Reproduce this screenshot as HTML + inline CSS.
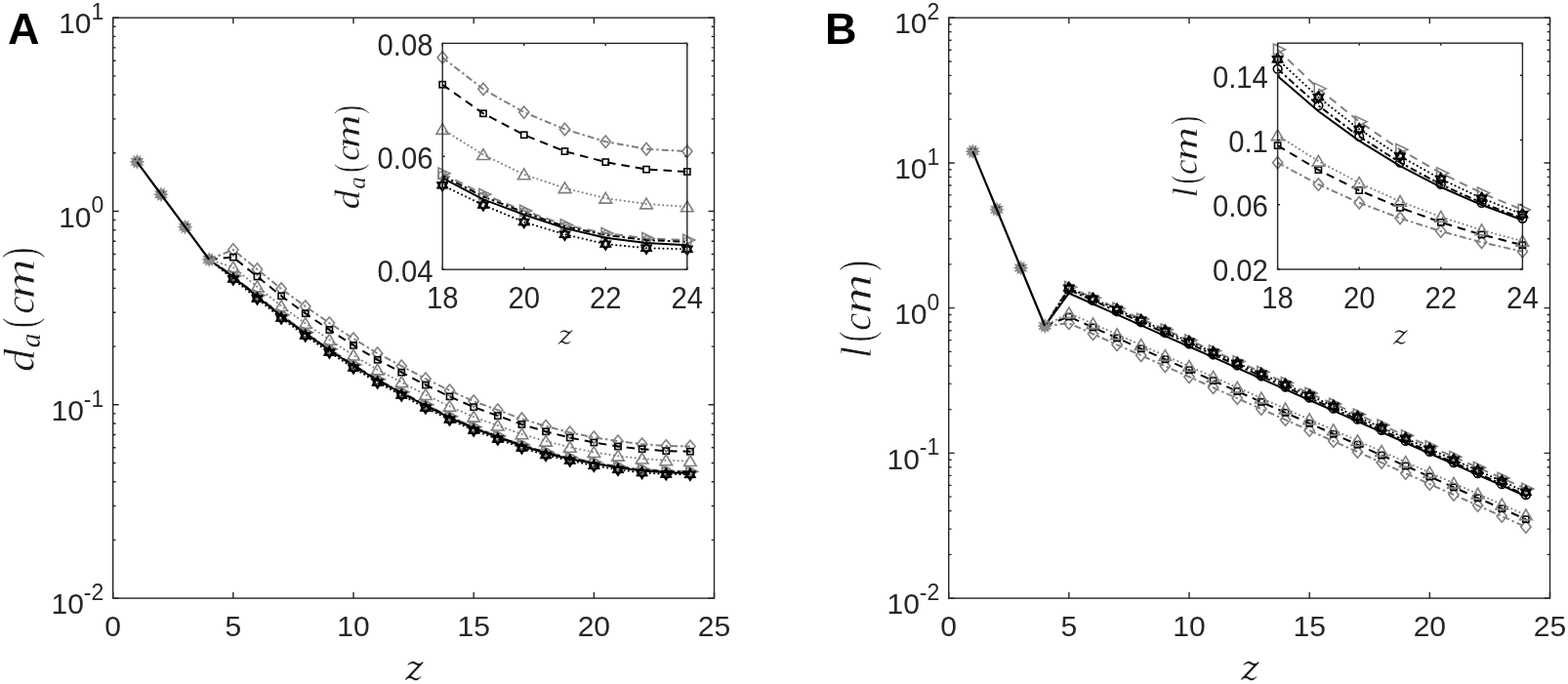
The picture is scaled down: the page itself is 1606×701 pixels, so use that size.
<!DOCTYPE html>
<html><head><meta charset="utf-8"><title>Figure</title>
<style>html,body{margin:0;padding:0;background:#fff;width:1606px;height:701px;overflow:hidden}svg{display:block}</style>
</head><body>
<svg width="1606" height="701" viewBox="0 0 1606 701">
<rect x="0" y="0" width="1606" height="701" fill="#ffffff"/>
<g>
<polyline points="214.23,265.99 238.86,255.98 263.49,276.01 288.12,296.03 312.76,314.06 337.39,331.08 362.02,347.11 386.65,362.13 411.28,375.16 435.92,388.18 460.55,400.21 485.18,411.23 509.81,420.26 534.44,429.28 559.08,436.75 583.71,443.21 608.34,448.27 632.97,452.16 657.6,455.14 682.24,456.95 706.87,457.51" fill="none" stroke="#808080" stroke-width="2.0" stroke-dasharray="7,3,2.5,3" stroke-linecap="butt" stroke-linejoin="round"/>
<polygon points="238.86,249.82 244.01,255.98 238.86,262.14 233.71,255.98" fill="none" stroke="#808080" stroke-width="1.6"/>
<polygon points="263.49,269.85 268.64,276.01 263.49,282.17 258.34,276.01" fill="none" stroke="#808080" stroke-width="1.6"/>
<polygon points="288.12,289.87 293.28,296.03 288.12,302.19 282.97,296.03" fill="none" stroke="#808080" stroke-width="1.6"/>
<polygon points="312.76,307.9 317.91,314.06 312.76,320.22 307.6,314.06" fill="none" stroke="#808080" stroke-width="1.6"/>
<polygon points="337.39,324.92 342.54,331.08 337.39,337.24 332.24,331.08" fill="none" stroke="#808080" stroke-width="1.6"/>
<polygon points="362.02,340.95 367.17,347.11 362.02,353.27 356.87,347.11" fill="none" stroke="#808080" stroke-width="1.6"/>
<polygon points="386.65,355.97 391.8,362.13 386.65,368.29 381.5,362.13" fill="none" stroke="#808080" stroke-width="1.6"/>
<polygon points="411.28,369 416.44,375.16 411.28,381.32 406.13,375.16" fill="none" stroke="#808080" stroke-width="1.6"/>
<polygon points="435.92,382.02 441.07,388.18 435.92,394.34 430.76,388.18" fill="none" stroke="#808080" stroke-width="1.6"/>
<polygon points="460.55,394.05 465.7,400.21 460.55,406.37 455.4,400.21" fill="none" stroke="#808080" stroke-width="1.6"/>
<polygon points="485.18,405.07 490.33,411.23 485.18,417.39 480.03,411.23" fill="none" stroke="#808080" stroke-width="1.6"/>
<polygon points="509.81,414.1 514.96,420.26 509.81,426.42 504.66,420.26" fill="none" stroke="#808080" stroke-width="1.6"/>
<polygon points="534.44,423.12 539.6,429.28 534.44,435.44 529.29,429.28" fill="none" stroke="#808080" stroke-width="1.6"/>
<polygon points="559.08,430.59 564.23,436.75 559.08,442.91 553.92,436.75" fill="none" stroke="#808080" stroke-width="1.6"/>
<polygon points="583.71,437.05 588.86,443.21 583.71,449.37 578.56,443.21" fill="none" stroke="#808080" stroke-width="1.6"/>
<polygon points="608.34,442.11 613.49,448.27 608.34,454.43 603.19,448.27" fill="none" stroke="#808080" stroke-width="1.6"/>
<polygon points="632.97,446 638.12,452.16 632.97,458.32 627.82,452.16" fill="none" stroke="#808080" stroke-width="1.6"/>
<polygon points="657.6,448.98 662.76,455.14 657.6,461.3 652.45,455.14" fill="none" stroke="#808080" stroke-width="1.6"/>
<polygon points="682.24,450.79 687.39,456.95 682.24,463.11 677.08,456.95" fill="none" stroke="#808080" stroke-width="1.6"/>
<polygon points="706.87,451.35 712.02,457.51 706.87,463.67 701.72,457.51" fill="none" stroke="#808080" stroke-width="1.6"/>
<polyline points="214.23,265.99 238.86,263.6 263.49,283.47 288.12,303.33 312.76,321.19 337.39,338.05 362.02,353.91 386.65,368.77 411.28,381.64 435.92,394.5 460.55,406.36 485.18,417.22 509.81,426.09 534.44,434.95 559.08,442.26 583.71,448.52 608.34,453.5 632.97,457.51 657.6,460.24 682.24,462.16 706.87,462.76" fill="none" stroke="#000000" stroke-width="2.0" stroke-dasharray="8.5,6" stroke-linecap="butt" stroke-linejoin="round"/>
<rect x="235.76" y="260.5" width="6.2" height="6.2" fill="none" stroke="#000000" stroke-width="1.6"/>
<rect x="260.39" y="280.37" width="6.2" height="6.2" fill="none" stroke="#000000" stroke-width="1.6"/>
<rect x="285.02" y="300.23" width="6.2" height="6.2" fill="none" stroke="#000000" stroke-width="1.6"/>
<rect x="309.66" y="318.09" width="6.2" height="6.2" fill="none" stroke="#000000" stroke-width="1.6"/>
<rect x="334.29" y="334.95" width="6.2" height="6.2" fill="none" stroke="#000000" stroke-width="1.6"/>
<rect x="358.92" y="350.81" width="6.2" height="6.2" fill="none" stroke="#000000" stroke-width="1.6"/>
<rect x="383.55" y="365.67" width="6.2" height="6.2" fill="none" stroke="#000000" stroke-width="1.6"/>
<rect x="408.18" y="378.54" width="6.2" height="6.2" fill="none" stroke="#000000" stroke-width="1.6"/>
<rect x="432.82" y="391.4" width="6.2" height="6.2" fill="none" stroke="#000000" stroke-width="1.6"/>
<rect x="457.45" y="403.26" width="6.2" height="6.2" fill="none" stroke="#000000" stroke-width="1.6"/>
<rect x="482.08" y="414.12" width="6.2" height="6.2" fill="none" stroke="#000000" stroke-width="1.6"/>
<rect x="506.71" y="422.99" width="6.2" height="6.2" fill="none" stroke="#000000" stroke-width="1.6"/>
<rect x="531.34" y="431.85" width="6.2" height="6.2" fill="none" stroke="#000000" stroke-width="1.6"/>
<rect x="555.98" y="439.16" width="6.2" height="6.2" fill="none" stroke="#000000" stroke-width="1.6"/>
<rect x="580.61" y="445.42" width="6.2" height="6.2" fill="none" stroke="#000000" stroke-width="1.6"/>
<rect x="605.24" y="450.4" width="6.2" height="6.2" fill="none" stroke="#000000" stroke-width="1.6"/>
<rect x="629.87" y="454.41" width="6.2" height="6.2" fill="none" stroke="#000000" stroke-width="1.6"/>
<rect x="654.5" y="457.14" width="6.2" height="6.2" fill="none" stroke="#000000" stroke-width="1.6"/>
<rect x="679.14" y="459.06" width="6.2" height="6.2" fill="none" stroke="#000000" stroke-width="1.6"/>
<rect x="703.77" y="459.66" width="6.2" height="6.2" fill="none" stroke="#000000" stroke-width="1.6"/>
<polyline points="214.23,265.99 238.86,273.96 263.49,293.79 288.12,313.61 312.76,331.44 337.39,348.27 362.02,364.09 386.65,378.92 411.28,391.75 435.92,404.58 460.55,416.41 485.18,427.23 509.81,436.06 534.44,444.89 559.08,452.16 583.71,458.36 608.34,463.51 632.97,467.23 657.6,470.13 682.24,471.78 706.87,472.62" fill="none" stroke="#808080" stroke-width="2.0" stroke-dasharray="0.1,4.3" stroke-linecap="round" stroke-linejoin="round"/>
<polygon points="238.86,268.08 245.16,278.88 232.56,278.88" fill="none" stroke="#808080" stroke-width="1.6"/>
<polygon points="263.49,287.91 269.79,298.71 257.19,298.71" fill="none" stroke="#808080" stroke-width="1.6"/>
<polygon points="288.12,307.73 294.42,318.53 281.82,318.53" fill="none" stroke="#808080" stroke-width="1.6"/>
<polygon points="312.76,325.56 319.06,336.36 306.46,336.36" fill="none" stroke="#808080" stroke-width="1.6"/>
<polygon points="337.39,342.39 343.69,353.19 331.09,353.19" fill="none" stroke="#808080" stroke-width="1.6"/>
<polygon points="362.02,358.21 368.32,369.01 355.72,369.01" fill="none" stroke="#808080" stroke-width="1.6"/>
<polygon points="386.65,373.04 392.95,383.84 380.35,383.84" fill="none" stroke="#808080" stroke-width="1.6"/>
<polygon points="411.28,385.87 417.58,396.67 404.98,396.67" fill="none" stroke="#808080" stroke-width="1.6"/>
<polygon points="435.92,398.7 442.22,409.5 429.62,409.5" fill="none" stroke="#808080" stroke-width="1.6"/>
<polygon points="460.55,410.53 466.85,421.33 454.25,421.33" fill="none" stroke="#808080" stroke-width="1.6"/>
<polygon points="485.18,421.35 491.48,432.15 478.88,432.15" fill="none" stroke="#808080" stroke-width="1.6"/>
<polygon points="509.81,430.18 516.11,440.98 503.51,440.98" fill="none" stroke="#808080" stroke-width="1.6"/>
<polygon points="534.44,439.01 540.74,449.81 528.14,449.81" fill="none" stroke="#808080" stroke-width="1.6"/>
<polygon points="559.08,446.28 565.38,457.08 552.78,457.08" fill="none" stroke="#808080" stroke-width="1.6"/>
<polygon points="583.71,452.48 590.01,463.28 577.41,463.28" fill="none" stroke="#808080" stroke-width="1.6"/>
<polygon points="608.34,457.63 614.64,468.43 602.04,468.43" fill="none" stroke="#808080" stroke-width="1.6"/>
<polygon points="632.97,461.35 639.27,472.15 626.67,472.15" fill="none" stroke="#808080" stroke-width="1.6"/>
<polygon points="657.6,464.25 663.9,475.05 651.3,475.05" fill="none" stroke="#808080" stroke-width="1.6"/>
<polygon points="682.24,465.9 688.54,476.7 675.94,476.7" fill="none" stroke="#808080" stroke-width="1.6"/>
<polygon points="706.87,466.74 713.17,477.54 700.57,477.54" fill="none" stroke="#808080" stroke-width="1.6"/>
<polyline points="214.23,265.99 238.86,282.79 263.49,302.79 288.12,322.78 312.76,340.78 337.39,357.78 362.02,373.78 386.65,388.78 411.28,401.78 435.92,414.78 460.55,426.77 485.18,437.77 509.81,446.77 534.44,455.77 559.08,463.21 583.71,468.99 608.34,473.81 632.97,478.19 657.6,480.93 682.24,482.62 706.87,483.19" fill="none" stroke="#808080" stroke-width="2.0" stroke-dasharray="8.5,6" stroke-linecap="butt" stroke-linejoin="round"/>
<polygon points="246.66,282.79 234.66,277.09 234.66,288.49" fill="none" stroke="#808080" stroke-width="1.6"/>
<polygon points="271.29,302.79 259.29,297.09 259.29,308.49" fill="none" stroke="#808080" stroke-width="1.6"/>
<polygon points="295.92,322.78 283.92,317.08 283.92,328.48" fill="none" stroke="#808080" stroke-width="1.6"/>
<polygon points="320.56,340.78 308.56,335.08 308.56,346.48" fill="none" stroke="#808080" stroke-width="1.6"/>
<polygon points="345.19,357.78 333.19,352.08 333.19,363.48" fill="none" stroke="#808080" stroke-width="1.6"/>
<polygon points="369.82,373.78 357.82,368.08 357.82,379.48" fill="none" stroke="#808080" stroke-width="1.6"/>
<polygon points="394.45,388.78 382.45,383.08 382.45,394.48" fill="none" stroke="#808080" stroke-width="1.6"/>
<polygon points="419.08,401.78 407.08,396.08 407.08,407.48" fill="none" stroke="#808080" stroke-width="1.6"/>
<polygon points="443.72,414.78 431.72,409.08 431.72,420.48" fill="none" stroke="#808080" stroke-width="1.6"/>
<polygon points="468.35,426.77 456.35,421.07 456.35,432.47" fill="none" stroke="#808080" stroke-width="1.6"/>
<polygon points="492.98,437.77 480.98,432.07 480.98,443.47" fill="none" stroke="#808080" stroke-width="1.6"/>
<polygon points="517.61,446.77 505.61,441.07 505.61,452.47" fill="none" stroke="#808080" stroke-width="1.6"/>
<polygon points="542.24,455.77 530.24,450.07 530.24,461.47" fill="none" stroke="#808080" stroke-width="1.6"/>
<polygon points="566.88,463.21 554.88,457.51 554.88,468.91" fill="none" stroke="#808080" stroke-width="1.6"/>
<polygon points="591.51,468.99 579.51,463.29 579.51,474.69" fill="none" stroke="#808080" stroke-width="1.6"/>
<polygon points="616.14,473.81 604.14,468.11 604.14,479.51" fill="none" stroke="#808080" stroke-width="1.6"/>
<polygon points="640.77,478.19 628.77,472.49 628.77,483.89" fill="none" stroke="#808080" stroke-width="1.6"/>
<polygon points="665.4,480.93 653.4,475.23 653.4,486.63" fill="none" stroke="#808080" stroke-width="1.6"/>
<polygon points="690.04,482.62 678.04,476.92 678.04,488.32" fill="none" stroke="#808080" stroke-width="1.6"/>
<polygon points="714.67,483.19 702.67,477.49 702.67,488.89" fill="none" stroke="#808080" stroke-width="1.6"/>
<polyline points="214.23,265.99 238.86,283.37 263.49,303.37 288.12,323.37 312.76,341.37 337.39,358.37 362.02,374.37 386.65,389.37 411.28,402.37 435.92,415.37 460.55,427.37 485.18,438.37 509.81,447.37 534.44,456.37 559.08,463.82 583.71,469.64 608.34,474.32 632.97,478.73 657.6,481.49 682.24,483.19 706.87,483.76" fill="none" stroke="#000000" stroke-width="2.0" stroke-dasharray="7,3,2.5,3" stroke-linecap="butt" stroke-linejoin="round"/>
<circle cx="238.86" cy="283.37" r="4.32" fill="none" stroke="#808080" stroke-width="1.6"/>
<circle cx="263.49" cy="303.37" r="4.32" fill="none" stroke="#808080" stroke-width="1.6"/>
<circle cx="288.12" cy="323.37" r="4.32" fill="none" stroke="#808080" stroke-width="1.6"/>
<circle cx="312.76" cy="341.37" r="4.32" fill="none" stroke="#808080" stroke-width="1.6"/>
<circle cx="337.39" cy="358.37" r="4.32" fill="none" stroke="#808080" stroke-width="1.6"/>
<circle cx="362.02" cy="374.37" r="4.32" fill="none" stroke="#808080" stroke-width="1.6"/>
<circle cx="386.65" cy="389.37" r="4.32" fill="none" stroke="#808080" stroke-width="1.6"/>
<circle cx="411.28" cy="402.37" r="4.32" fill="none" stroke="#808080" stroke-width="1.6"/>
<circle cx="435.92" cy="415.37" r="4.32" fill="none" stroke="#808080" stroke-width="1.6"/>
<circle cx="460.55" cy="427.37" r="4.32" fill="none" stroke="#808080" stroke-width="1.6"/>
<circle cx="485.18" cy="438.37" r="4.32" fill="none" stroke="#808080" stroke-width="1.6"/>
<circle cx="509.81" cy="447.37" r="4.32" fill="none" stroke="#808080" stroke-width="1.6"/>
<circle cx="534.44" cy="456.37" r="4.32" fill="none" stroke="#808080" stroke-width="1.6"/>
<circle cx="559.08" cy="463.82" r="4.32" fill="none" stroke="#808080" stroke-width="1.6"/>
<circle cx="583.71" cy="469.64" r="4.32" fill="none" stroke="#808080" stroke-width="1.6"/>
<circle cx="608.34" cy="474.32" r="4.32" fill="none" stroke="#808080" stroke-width="1.6"/>
<circle cx="632.97" cy="478.73" r="4.32" fill="none" stroke="#808080" stroke-width="1.6"/>
<circle cx="657.6" cy="481.49" r="4.32" fill="none" stroke="#808080" stroke-width="1.6"/>
<circle cx="682.24" cy="483.19" r="4.32" fill="none" stroke="#808080" stroke-width="1.6"/>
<circle cx="706.87" cy="483.76" r="4.32" fill="none" stroke="#808080" stroke-width="1.6"/>
<polyline points="214.23,265.99 238.86,283.96 263.49,303.96 288.12,323.96 312.76,341.96 337.39,358.97 362.02,374.97 386.65,389.97 411.28,402.97 435.92,415.97 460.55,427.98 485.18,438.98 509.81,447.98 534.44,456.98 559.08,464.43 583.71,470.46 608.34,475.01 632.97,479.28 657.6,482.43 682.24,484.14 706.87,484.92" fill="none" stroke="#000000" stroke-width="2.0" stroke-linecap="butt" stroke-linejoin="round"/>
<polyline points="214.23,265.99 238.86,286 263.49,306 288.12,326 312.76,344 337.39,361 362.02,377 386.65,392 411.28,405 435.92,418 460.55,430 485.18,441 509.81,450 534.44,459 559.08,466.44 583.71,472.12 608.34,477.3 632.97,481.3 657.6,484.53 682.24,485.9 706.87,486.29" fill="none" stroke="#000000" stroke-width="2.0" stroke-dasharray="0.1,4.3" stroke-linecap="round" stroke-linejoin="round"/>
<polygon points="238.86,280.9 240.42,283.3 243.28,283.45 241.98,286 243.28,288.55 240.42,288.7 238.86,291.1 237.3,288.7 234.44,288.55 235.74,286 234.44,283.45 237.3,283.3" fill="none" stroke="#000000" stroke-width="2.56" stroke-linejoin="miter"/>
<polygon points="263.49,300.9 265.05,303.3 267.91,303.45 266.61,306 267.91,308.55 265.05,308.7 263.49,311.1 261.93,308.7 259.08,308.55 260.37,306 259.08,303.45 261.93,303.3" fill="none" stroke="#000000" stroke-width="2.56" stroke-linejoin="miter"/>
<polygon points="288.12,320.9 289.68,323.3 292.54,323.45 291.24,326 292.54,328.55 289.68,328.7 288.12,331.1 286.56,328.7 283.71,328.55 285,326 283.71,323.45 286.56,323.3" fill="none" stroke="#000000" stroke-width="2.56" stroke-linejoin="miter"/>
<polygon points="312.76,338.9 314.32,341.3 317.17,341.45 315.88,344 317.17,346.55 314.32,346.7 312.76,349.1 311.2,346.7 308.34,346.55 309.64,344 308.34,341.45 311.2,341.3" fill="none" stroke="#000000" stroke-width="2.56" stroke-linejoin="miter"/>
<polygon points="337.39,355.9 338.95,358.3 341.8,358.45 340.51,361 341.8,363.55 338.95,363.7 337.39,366.1 335.83,363.7 332.97,363.55 334.27,361 332.97,358.45 335.83,358.3" fill="none" stroke="#000000" stroke-width="2.56" stroke-linejoin="miter"/>
<polygon points="362.02,371.9 363.58,374.3 366.44,374.45 365.14,377 366.44,379.55 363.58,379.7 362.02,382.1 360.46,379.7 357.6,379.55 358.9,377 357.6,374.45 360.46,374.3" fill="none" stroke="#000000" stroke-width="2.56" stroke-linejoin="miter"/>
<polygon points="386.65,386.9 388.21,389.3 391.07,389.45 389.77,392 391.07,394.55 388.21,394.7 386.65,397.1 385.09,394.7 382.24,394.55 383.53,392 382.24,389.45 385.09,389.3" fill="none" stroke="#000000" stroke-width="2.56" stroke-linejoin="miter"/>
<polygon points="411.28,399.9 412.84,402.3 415.7,402.45 414.4,405 415.7,407.55 412.84,407.7 411.28,410.1 409.72,407.7 406.87,407.55 408.16,405 406.87,402.45 409.72,402.3" fill="none" stroke="#000000" stroke-width="2.56" stroke-linejoin="miter"/>
<polygon points="435.92,412.9 437.48,415.3 440.33,415.45 439.04,418 440.33,420.55 437.48,420.7 435.92,423.1 434.36,420.7 431.5,420.55 432.8,418 431.5,415.45 434.36,415.3" fill="none" stroke="#000000" stroke-width="2.56" stroke-linejoin="miter"/>
<polygon points="460.55,424.9 462.11,427.3 464.96,427.45 463.67,430 464.96,432.55 462.11,432.7 460.55,435.1 458.99,432.7 456.13,432.55 457.43,430 456.13,427.45 458.99,427.3" fill="none" stroke="#000000" stroke-width="2.56" stroke-linejoin="miter"/>
<polygon points="485.18,435.9 486.74,438.3 489.6,438.45 488.3,441 489.6,443.55 486.74,443.7 485.18,446.1 483.62,443.7 480.76,443.55 482.06,441 480.76,438.45 483.62,438.3" fill="none" stroke="#000000" stroke-width="2.56" stroke-linejoin="miter"/>
<polygon points="509.81,444.9 511.37,447.3 514.23,447.45 512.93,450 514.23,452.55 511.37,452.7 509.81,455.1 508.25,452.7 505.4,452.55 506.69,450 505.4,447.45 508.25,447.3" fill="none" stroke="#000000" stroke-width="2.56" stroke-linejoin="miter"/>
<polygon points="534.44,453.9 536,456.3 538.86,456.45 537.56,459 538.86,461.55 536,461.7 534.44,464.1 532.88,461.7 530.03,461.55 531.32,459 530.03,456.45 532.88,456.3" fill="none" stroke="#000000" stroke-width="2.56" stroke-linejoin="miter"/>
<polygon points="559.08,461.34 560.64,463.74 563.49,463.89 562.2,466.44 563.49,468.99 560.64,469.14 559.08,471.54 557.52,469.14 554.66,468.99 555.96,466.44 554.66,463.89 557.52,463.74" fill="none" stroke="#000000" stroke-width="2.56" stroke-linejoin="miter"/>
<polygon points="583.71,467.02 585.27,469.41 588.12,469.57 586.83,472.12 588.12,474.67 585.27,474.82 583.71,477.22 582.15,474.82 579.29,474.67 580.59,472.12 579.29,469.57 582.15,469.41" fill="none" stroke="#000000" stroke-width="2.56" stroke-linejoin="miter"/>
<polygon points="608.34,472.2 609.9,474.59 612.76,474.75 611.46,477.3 612.76,479.85 609.9,480 608.34,482.4 606.78,480 603.92,479.85 605.22,477.3 603.92,474.75 606.78,474.59" fill="none" stroke="#000000" stroke-width="2.56" stroke-linejoin="miter"/>
<polygon points="632.97,476.2 634.53,478.6 637.39,478.75 636.09,481.3 637.39,483.85 634.53,484 632.97,486.4 631.41,484 628.56,483.85 629.85,481.3 628.56,478.75 631.41,478.6" fill="none" stroke="#000000" stroke-width="2.56" stroke-linejoin="miter"/>
<polygon points="657.6,479.43 659.16,481.83 662.02,481.98 660.72,484.53 662.02,487.08 659.16,487.23 657.6,489.63 656.04,487.23 653.19,487.08 654.48,484.53 653.19,481.98 656.04,481.83" fill="none" stroke="#000000" stroke-width="2.56" stroke-linejoin="miter"/>
<polygon points="682.24,480.8 683.8,483.19 686.65,483.35 685.36,485.9 686.65,488.45 683.8,488.6 682.24,491 680.68,488.6 677.82,488.45 679.12,485.9 677.82,483.35 680.68,483.19" fill="none" stroke="#000000" stroke-width="2.56" stroke-linejoin="miter"/>
<polygon points="706.87,481.19 708.43,483.59 711.28,483.74 709.99,486.29 711.28,488.84 708.43,488.99 706.87,491.39 705.31,488.99 702.45,488.84 703.75,486.29 702.45,483.74 705.31,483.59" fill="none" stroke="#000000" stroke-width="2.56" stroke-linejoin="miter"/>
<polygon points="140.33,157.86 141.67,160.78 144.29,158.92 144,162.12 147.19,161.82 145.34,164.44 148.25,165.78 145.34,167.13 147.19,169.74 144,169.45 144.29,172.64 141.67,170.79 140.33,173.7 138.99,170.79 136.37,172.64 136.67,169.45 133.47,169.74 135.32,167.13 132.41,165.78 135.32,164.44 133.47,161.82 136.67,162.12 136.37,158.92 138.99,160.78" fill="#8a8a8a" stroke="none"/>
<circle cx="138.33" cy="163.28" r="1" fill="#333"/>
<circle cx="142.83" cy="163.28" r="1" fill="#333"/>
<polygon points="164.96,191.31 166.31,194.23 168.92,192.37 168.63,195.57 171.82,195.27 169.97,197.89 172.88,199.23 169.97,200.58 171.82,203.19 168.63,202.9 168.92,206.09 166.31,204.24 164.96,207.15 163.62,204.24 161,206.09 161.3,202.9 158.11,203.19 159.96,200.58 157.04,199.23 159.96,197.89 158.11,195.27 161.3,195.57 161,192.37 163.62,194.23" fill="#8a8a8a" stroke="none"/>
<circle cx="162.96" cy="196.73" r="1" fill="#333"/>
<circle cx="167.46" cy="196.73" r="1" fill="#333"/>
<polygon points="189.6,224.68 190.94,227.59 193.56,225.74 193.26,228.93 196.45,228.64 194.6,231.26 197.52,232.6 194.6,233.94 196.45,236.56 193.26,236.26 193.56,239.46 190.94,237.61 189.6,240.52 188.25,237.61 185.64,239.46 185.93,236.26 182.74,236.56 184.59,233.94 181.68,232.6 184.59,231.26 182.74,228.64 185.93,228.93 185.64,225.74 188.25,227.59" fill="#8a8a8a" stroke="none"/>
<circle cx="187.6" cy="230.1" r="1" fill="#333"/>
<circle cx="192.1" cy="230.1" r="1" fill="#333"/>
<polygon points="214.23,258.07 215.57,260.98 218.19,259.13 217.89,262.32 221.09,262.03 219.24,264.65 222.15,265.99 219.24,267.33 221.09,269.95 217.89,269.66 218.19,272.85 215.57,271 214.23,273.91 212.89,271 210.27,272.85 210.56,269.66 207.37,269.95 209.22,267.33 206.31,265.99 209.22,264.65 207.37,262.03 210.56,262.32 210.27,259.13 212.89,260.98" fill="#8a8a8a" stroke="none"/>
<circle cx="212.23" cy="263.49" r="1" fill="#333"/>
<circle cx="216.73" cy="263.49" r="1" fill="#333"/>
<polyline points="140.33,165.78 164.96,199.23 189.6,232.6 214.23,265.99" fill="none" stroke="#000000" stroke-width="2.2" stroke-linecap="butt" stroke-linejoin="round"/>
</g>
<path d="M115.7,613.1v-6M115.7,18.2v6M238.86,613.1v-6M238.86,18.2v6M362.02,613.1v-6M362.02,18.2v6M485.18,613.1v-6M485.18,18.2v6M608.34,613.1v-6M608.34,18.2v6M731.5,613.1v-6M731.5,18.2v6M115.7,613.1h6M731.5,613.1h-6M115.7,414.8h6M731.5,414.8h-6M115.7,216.5h6M731.5,216.5h-6M115.7,18.2h6M731.5,18.2h-6M115.7,553.41h2.82M731.5,553.41h-2.82M115.7,518.49h2.82M731.5,518.49h-2.82M115.7,493.71h2.82M731.5,493.71h-2.82M115.7,474.49h2.82M731.5,474.49h-2.82M115.7,458.79h2.82M731.5,458.79h-2.82M115.7,445.52h2.82M731.5,445.52h-2.82M115.7,434.02h2.82M731.5,434.02h-2.82M115.7,423.87h2.82M731.5,423.87h-2.82M115.7,355.11h2.82M731.5,355.11h-2.82M115.7,320.19h2.82M731.5,320.19h-2.82M115.7,295.41h2.82M731.5,295.41h-2.82M115.7,276.19h2.82M731.5,276.19h-2.82M115.7,260.49h2.82M731.5,260.49h-2.82M115.7,247.22h2.82M731.5,247.22h-2.82M115.7,235.72h2.82M731.5,235.72h-2.82M115.7,225.57h2.82M731.5,225.57h-2.82M115.7,156.81h2.82M731.5,156.81h-2.82M115.7,121.89h2.82M731.5,121.89h-2.82M115.7,97.11h2.82M731.5,97.11h-2.82M115.7,77.89h2.82M731.5,77.89h-2.82M115.7,62.19h2.82M731.5,62.19h-2.82M115.7,48.92h2.82M731.5,48.92h-2.82M115.7,37.42h2.82M731.5,37.42h-2.82M115.7,27.27h2.82M731.5,27.27h-2.82" fill="none" stroke="#262626" stroke-width="1.4"/>
<rect x="115.7" y="18.2" width="615.8" height="594.9" fill="none" stroke="#262626" stroke-width="1.4"/>
<text x="115.7" y="651.5" font-size="30" text-anchor="middle" font-family="Liberation Sans, Arial, sans-serif" fill="#262626">0</text>
<text x="238.86" y="651.5" font-size="30" text-anchor="middle" font-family="Liberation Sans, Arial, sans-serif" fill="#262626">5</text>
<text x="362.02" y="651.5" font-size="30" text-anchor="middle" font-family="Liberation Sans, Arial, sans-serif" fill="#262626">10</text>
<text x="485.18" y="651.5" font-size="30" text-anchor="middle" font-family="Liberation Sans, Arial, sans-serif" fill="#262626">15</text>
<text x="608.34" y="651.5" font-size="30" text-anchor="middle" font-family="Liberation Sans, Arial, sans-serif" fill="#262626">20</text>
<text x="731.5" y="651.5" font-size="30" text-anchor="middle" font-family="Liberation Sans, Arial, sans-serif" fill="#262626">25</text>
<text x="106.3" y="34.4" font-size="30" text-anchor="end" font-family="Liberation Sans, Arial, sans-serif" fill="#262626">10<tspan font-size="23" dy="-14.3">1</tspan></text>
<text x="106.3" y="232.7" font-size="30" text-anchor="end" font-family="Liberation Sans, Arial, sans-serif" fill="#262626">10<tspan font-size="23" dy="-14.3">0</tspan></text>
<text x="106.3" y="431" font-size="30" text-anchor="end" font-family="Liberation Sans, Arial, sans-serif" fill="#262626">10<tspan font-size="23" dy="-14.3">-1</tspan></text>
<text x="106.3" y="629.3" font-size="30" text-anchor="end" font-family="Liberation Sans, Arial, sans-serif" fill="#262626">10<tspan font-size="23" dy="-14.3">-2</tspan></text>
<rect x="453.2" y="44.4" width="250.6" height="231.8" fill="#ffffff"/>
<polyline points="453.2,58.89 494.97,91.34 536.73,115.1 578.5,132.48 620.27,145.23 662.03,152.77 703.8,155.08" fill="none" stroke="#808080" stroke-width="2.0" stroke-dasharray="7,3,2.5,3" stroke-linecap="butt" stroke-linejoin="round"/>
<polygon points="453.2,52.73 458.35,58.89 453.2,65.05 448.05,58.89" fill="none" stroke="#808080" stroke-width="1.6"/>
<polygon points="494.97,85.18 500.12,91.34 494.97,97.5 489.81,91.34" fill="none" stroke="#808080" stroke-width="1.6"/>
<polygon points="536.73,108.94 541.89,115.1 536.73,121.26 531.58,115.1" fill="none" stroke="#808080" stroke-width="1.6"/>
<polygon points="578.5,126.32 583.65,132.48 578.5,138.64 573.35,132.48" fill="none" stroke="#808080" stroke-width="1.6"/>
<polygon points="620.27,139.07 625.42,145.23 620.27,151.39 615.11,145.23" fill="none" stroke="#808080" stroke-width="1.6"/>
<polygon points="662.03,146.61 667.19,152.77 662.03,158.93 656.88,152.77" fill="none" stroke="#808080" stroke-width="1.6"/>
<polygon points="703.8,148.92 708.95,155.08 703.8,161.24 698.65,155.08" fill="none" stroke="#808080" stroke-width="1.6"/>
<polyline points="453.2,86.7 494.97,116.26 536.73,138.28 578.5,155.08 620.27,166.1 662.03,173.63 703.8,175.95" fill="none" stroke="#000000" stroke-width="2.0" stroke-dasharray="8.5,6" stroke-linecap="butt" stroke-linejoin="round"/>
<rect x="450.1" y="83.6" width="6.2" height="6.2" fill="none" stroke="#000000" stroke-width="1.6"/>
<rect x="491.87" y="113.16" width="6.2" height="6.2" fill="none" stroke="#000000" stroke-width="1.6"/>
<rect x="533.63" y="135.18" width="6.2" height="6.2" fill="none" stroke="#000000" stroke-width="1.6"/>
<rect x="575.4" y="151.98" width="6.2" height="6.2" fill="none" stroke="#000000" stroke-width="1.6"/>
<rect x="617.17" y="163" width="6.2" height="6.2" fill="none" stroke="#000000" stroke-width="1.6"/>
<rect x="658.93" y="170.53" width="6.2" height="6.2" fill="none" stroke="#000000" stroke-width="1.6"/>
<rect x="700.7" y="172.85" width="6.2" height="6.2" fill="none" stroke="#000000" stroke-width="1.6"/>
<polyline points="453.2,132.48 494.97,158.56 536.73,178.84 578.5,192.75 620.27,203.18 662.03,208.98 703.8,211.88" fill="none" stroke="#808080" stroke-width="2.0" stroke-dasharray="0.1,4.3" stroke-linecap="round" stroke-linejoin="round"/>
<polygon points="453.2,126.6 459.5,137.4 446.9,137.4" fill="none" stroke="#808080" stroke-width="1.6"/>
<polygon points="494.97,152.68 501.27,163.48 488.67,163.48" fill="none" stroke="#808080" stroke-width="1.6"/>
<polygon points="536.73,172.96 543.03,183.76 530.43,183.76" fill="none" stroke="#808080" stroke-width="1.6"/>
<polygon points="578.5,186.87 584.8,197.67 572.2,197.67" fill="none" stroke="#808080" stroke-width="1.6"/>
<polygon points="620.27,197.3 626.57,208.1 613.97,208.1" fill="none" stroke="#808080" stroke-width="1.6"/>
<polygon points="662.03,203.1 668.33,213.9 655.73,213.9" fill="none" stroke="#808080" stroke-width="1.6"/>
<polygon points="703.8,206 710.1,216.8 697.5,216.8" fill="none" stroke="#808080" stroke-width="1.6"/>
<polyline points="453.2,177.69 494.97,199.13 536.73,215.93 578.5,230.42 620.27,239.11 662.03,244.33 703.8,246.07" fill="none" stroke="#808080" stroke-width="2.0" stroke-dasharray="8.5,6" stroke-linecap="butt" stroke-linejoin="round"/>
<polygon points="461,177.69 449,171.99 449,183.38" fill="none" stroke="#808080" stroke-width="1.6"/>
<polygon points="502.77,199.13 490.77,193.43 490.77,204.83" fill="none" stroke="#808080" stroke-width="1.6"/>
<polygon points="544.53,215.93 532.53,210.23 532.53,221.63" fill="none" stroke="#808080" stroke-width="1.6"/>
<polygon points="586.3,230.42 574.3,224.72 574.3,236.12" fill="none" stroke="#808080" stroke-width="1.6"/>
<polygon points="628.07,239.11 616.07,233.41 616.07,244.81" fill="none" stroke="#808080" stroke-width="1.6"/>
<polygon points="669.83,244.33 657.83,238.63 657.83,250.03" fill="none" stroke="#808080" stroke-width="1.6"/>
<polygon points="711.6,246.07 699.6,240.37 699.6,251.77" fill="none" stroke="#808080" stroke-width="1.6"/>
<polyline points="453.2,180 494.97,201.44 536.73,217.67 578.5,232.16 620.27,240.85 662.03,246.07 703.8,247.8" fill="none" stroke="#000000" stroke-width="2.0" stroke-dasharray="7,3,2.5,3" stroke-linecap="butt" stroke-linejoin="round"/>
<circle cx="453.2" cy="180" r="4.32" fill="none" stroke="#808080" stroke-width="1.6"/>
<circle cx="494.97" cy="201.44" r="4.32" fill="none" stroke="#808080" stroke-width="1.6"/>
<circle cx="536.73" cy="217.67" r="4.32" fill="none" stroke="#808080" stroke-width="1.6"/>
<circle cx="578.5" cy="232.16" r="4.32" fill="none" stroke="#808080" stroke-width="1.6"/>
<circle cx="620.27" cy="240.85" r="4.32" fill="none" stroke="#808080" stroke-width="1.6"/>
<circle cx="662.03" cy="246.07" r="4.32" fill="none" stroke="#808080" stroke-width="1.6"/>
<circle cx="703.8" cy="247.8" r="4.32" fill="none" stroke="#808080" stroke-width="1.6"/>
<polyline points="453.2,182.32 494.97,204.34 536.73,219.99 578.5,233.9 620.27,243.75 662.03,248.96 703.8,251.28" fill="none" stroke="#000000" stroke-width="2.0" stroke-linecap="butt" stroke-linejoin="round"/>
<polyline points="453.2,189.85 494.97,210.14 536.73,227.52 578.5,240.27 620.27,250.12 662.03,254.18 703.8,255.34" fill="none" stroke="#000000" stroke-width="2.0" stroke-dasharray="0.1,4.3" stroke-linecap="round" stroke-linejoin="round"/>
<polygon points="453.2,184.75 454.76,187.15 457.62,187.3 456.32,189.85 457.62,192.4 454.76,192.56 453.2,194.95 451.64,192.56 448.78,192.4 450.08,189.85 448.78,187.3 451.64,187.15" fill="none" stroke="#000000" stroke-width="2.56" stroke-linejoin="miter"/>
<polygon points="494.97,205.04 496.53,207.44 499.38,207.59 498.09,210.14 499.38,212.69 496.53,212.84 494.97,215.24 493.41,212.84 490.55,212.69 491.85,210.14 490.55,207.59 493.41,207.44" fill="none" stroke="#000000" stroke-width="2.56" stroke-linejoin="miter"/>
<polygon points="536.73,222.42 538.29,224.82 541.15,224.97 539.85,227.52 541.15,230.07 538.29,230.22 536.73,232.62 535.17,230.22 532.32,230.07 533.61,227.52 532.32,224.97 535.17,224.82" fill="none" stroke="#000000" stroke-width="2.56" stroke-linejoin="miter"/>
<polygon points="578.5,235.17 580.06,237.57 582.92,237.72 581.62,240.27 582.92,242.82 580.06,242.97 578.5,245.37 576.94,242.97 574.08,242.82 575.38,240.27 574.08,237.72 576.94,237.57" fill="none" stroke="#000000" stroke-width="2.56" stroke-linejoin="miter"/>
<polygon points="620.27,245.02 621.83,247.42 624.68,247.57 623.39,250.12 624.68,252.67 621.83,252.82 620.27,255.22 618.71,252.82 615.85,252.67 617.15,250.12 615.85,247.57 618.71,247.42" fill="none" stroke="#000000" stroke-width="2.56" stroke-linejoin="miter"/>
<polygon points="662.03,249.08 663.59,251.48 666.45,251.63 665.15,254.18 666.45,256.73 663.59,256.88 662.03,259.28 660.47,256.88 657.62,256.73 658.91,254.18 657.62,251.63 660.47,251.48" fill="none" stroke="#000000" stroke-width="2.56" stroke-linejoin="miter"/>
<polygon points="703.8,250.24 705.36,252.64 708.22,252.79 706.92,255.34 708.22,257.89 705.36,258.04 703.8,260.44 702.24,258.04 699.38,257.89 700.68,255.34 699.38,252.79 702.24,252.64" fill="none" stroke="#000000" stroke-width="2.56" stroke-linejoin="miter"/>
<path d="M453.2,276.2v-2.5M453.2,44.4v2.5M536.73,276.2v-2.5M536.73,44.4v2.5M620.27,276.2v-2.5M620.27,44.4v2.5M703.8,276.2v-2.5M703.8,44.4v2.5M453.2,276.2h2.5M703.8,276.2h-2.5M453.2,160.3h2.5M703.8,160.3h-2.5M453.2,44.4h2.5M703.8,44.4h-2.5" fill="none" stroke="#262626" stroke-width="1.4"/>
<rect x="453.2" y="44.4" width="250.6" height="231.8" fill="none" stroke="#262626" stroke-width="1.4"/>
<text transform="translate(453.2,315.7) scale(0.93,1)" font-size="31.5" text-anchor="middle" font-family="Liberation Sans, Arial, sans-serif" fill="#262626">18</text>
<text transform="translate(536.73,315.7) scale(0.93,1)" font-size="31.5" text-anchor="middle" font-family="Liberation Sans, Arial, sans-serif" fill="#262626">20</text>
<text transform="translate(620.27,315.7) scale(0.93,1)" font-size="31.5" text-anchor="middle" font-family="Liberation Sans, Arial, sans-serif" fill="#262626">22</text>
<text transform="translate(703.8,315.7) scale(0.93,1)" font-size="31.5" text-anchor="middle" font-family="Liberation Sans, Arial, sans-serif" fill="#262626">24</text>
<text transform="translate(443.5,288.6) scale(0.93,1)" font-size="31.5" text-anchor="end" font-family="Liberation Sans, Arial, sans-serif" fill="#262626">0.04</text>
<text transform="translate(443.5,172.7) scale(0.93,1)" font-size="31.5" text-anchor="end" font-family="Liberation Sans, Arial, sans-serif" fill="#262626">0.06</text>
<text transform="translate(443.5,56.8) scale(0.93,1)" font-size="31.5" text-anchor="end" font-family="Liberation Sans, Arial, sans-serif" fill="#262626">0.08</text>
<polyline points="1070.23,333.97 1094.86,331.32 1119.49,342.31 1144.12,353.29 1168.76,364.27 1193.39,375.26 1218.02,386.24 1242.65,397.23 1267.28,408.21 1291.92,419.2 1316.55,430.18 1341.18,441.16 1365.81,452.15 1390.44,463.13 1415.08,474.12 1439.71,485.1 1464.34,496.09 1488.97,507.07 1513.6,518.05 1538.24,529.04 1562.87,540.02" fill="none" stroke="#808080" stroke-width="2.0" stroke-dasharray="7,3,2.5,3" stroke-linecap="butt" stroke-linejoin="round"/>
<polygon points="1094.86,325.16 1100.01,331.32 1094.86,337.48 1089.71,331.32" fill="none" stroke="#808080" stroke-width="1.6"/>
<polygon points="1119.49,336.15 1124.64,342.31 1119.49,348.47 1114.34,342.31" fill="none" stroke="#808080" stroke-width="1.6"/>
<polygon points="1144.12,347.13 1149.28,353.29 1144.12,359.45 1138.97,353.29" fill="none" stroke="#808080" stroke-width="1.6"/>
<polygon points="1168.76,358.11 1173.91,364.27 1168.76,370.43 1163.6,364.27" fill="none" stroke="#808080" stroke-width="1.6"/>
<polygon points="1193.39,369.1 1198.54,375.26 1193.39,381.42 1188.24,375.26" fill="none" stroke="#808080" stroke-width="1.6"/>
<polygon points="1218.02,380.08 1223.17,386.24 1218.02,392.4 1212.87,386.24" fill="none" stroke="#808080" stroke-width="1.6"/>
<polygon points="1242.65,391.07 1247.8,397.23 1242.65,403.39 1237.5,397.23" fill="none" stroke="#808080" stroke-width="1.6"/>
<polygon points="1267.28,402.05 1272.44,408.21 1267.28,414.37 1262.13,408.21" fill="none" stroke="#808080" stroke-width="1.6"/>
<polygon points="1291.92,413.04 1297.07,419.2 1291.92,425.36 1286.76,419.2" fill="none" stroke="#808080" stroke-width="1.6"/>
<polygon points="1316.55,424.02 1321.7,430.18 1316.55,436.34 1311.4,430.18" fill="none" stroke="#808080" stroke-width="1.6"/>
<polygon points="1341.18,435 1346.33,441.16 1341.18,447.32 1336.03,441.16" fill="none" stroke="#808080" stroke-width="1.6"/>
<polygon points="1365.81,445.99 1370.96,452.15 1365.81,458.31 1360.66,452.15" fill="none" stroke="#808080" stroke-width="1.6"/>
<polygon points="1390.44,456.97 1395.6,463.13 1390.44,469.29 1385.29,463.13" fill="none" stroke="#808080" stroke-width="1.6"/>
<polygon points="1415.08,467.96 1420.23,474.12 1415.08,480.28 1409.92,474.12" fill="none" stroke="#808080" stroke-width="1.6"/>
<polygon points="1439.71,478.94 1444.86,485.1 1439.71,491.26 1434.56,485.1" fill="none" stroke="#808080" stroke-width="1.6"/>
<polygon points="1464.34,489.93 1469.49,496.09 1464.34,502.25 1459.19,496.09" fill="none" stroke="#808080" stroke-width="1.6"/>
<polygon points="1488.97,500.91 1494.12,507.07 1488.97,513.23 1483.82,507.07" fill="none" stroke="#808080" stroke-width="1.6"/>
<polygon points="1513.6,511.89 1518.76,518.05 1513.6,524.21 1508.45,518.05" fill="none" stroke="#808080" stroke-width="1.6"/>
<polygon points="1538.24,522.88 1543.39,529.04 1538.24,535.2 1533.08,529.04" fill="none" stroke="#808080" stroke-width="1.6"/>
<polygon points="1562.87,533.86 1568.02,540.02 1562.87,546.18 1557.72,540.02" fill="none" stroke="#808080" stroke-width="1.6"/>
<polyline points="1070.23,333.97 1094.86,324.53 1119.49,335.46 1144.12,346.39 1168.76,357.32 1193.39,368.25 1218.02,379.18 1242.65,390.11 1267.28,401.04 1291.92,411.96 1316.55,422.89 1341.18,433.82 1365.81,444.75 1390.44,455.68 1415.08,466.61 1439.71,477.54 1464.34,488.47 1488.97,499.4 1513.6,510.33 1538.24,521.25 1562.87,532.18" fill="none" stroke="#000000" stroke-width="2.0" stroke-dasharray="8.5,6" stroke-linecap="butt" stroke-linejoin="round"/>
<rect x="1091.76" y="321.43" width="6.2" height="6.2" fill="none" stroke="#000000" stroke-width="1.6"/>
<rect x="1116.39" y="332.36" width="6.2" height="6.2" fill="none" stroke="#000000" stroke-width="1.6"/>
<rect x="1141.02" y="343.29" width="6.2" height="6.2" fill="none" stroke="#000000" stroke-width="1.6"/>
<rect x="1165.66" y="354.22" width="6.2" height="6.2" fill="none" stroke="#000000" stroke-width="1.6"/>
<rect x="1190.29" y="365.15" width="6.2" height="6.2" fill="none" stroke="#000000" stroke-width="1.6"/>
<rect x="1214.92" y="376.08" width="6.2" height="6.2" fill="none" stroke="#000000" stroke-width="1.6"/>
<rect x="1239.55" y="387.01" width="6.2" height="6.2" fill="none" stroke="#000000" stroke-width="1.6"/>
<rect x="1264.18" y="397.94" width="6.2" height="6.2" fill="none" stroke="#000000" stroke-width="1.6"/>
<rect x="1288.82" y="408.86" width="6.2" height="6.2" fill="none" stroke="#000000" stroke-width="1.6"/>
<rect x="1313.45" y="419.79" width="6.2" height="6.2" fill="none" stroke="#000000" stroke-width="1.6"/>
<rect x="1338.08" y="430.72" width="6.2" height="6.2" fill="none" stroke="#000000" stroke-width="1.6"/>
<rect x="1362.71" y="441.65" width="6.2" height="6.2" fill="none" stroke="#000000" stroke-width="1.6"/>
<rect x="1387.34" y="452.58" width="6.2" height="6.2" fill="none" stroke="#000000" stroke-width="1.6"/>
<rect x="1411.98" y="463.51" width="6.2" height="6.2" fill="none" stroke="#000000" stroke-width="1.6"/>
<rect x="1436.61" y="474.44" width="6.2" height="6.2" fill="none" stroke="#000000" stroke-width="1.6"/>
<rect x="1461.24" y="485.37" width="6.2" height="6.2" fill="none" stroke="#000000" stroke-width="1.6"/>
<rect x="1485.87" y="496.3" width="6.2" height="6.2" fill="none" stroke="#000000" stroke-width="1.6"/>
<rect x="1510.5" y="507.23" width="6.2" height="6.2" fill="none" stroke="#000000" stroke-width="1.6"/>
<rect x="1535.14" y="518.15" width="6.2" height="6.2" fill="none" stroke="#000000" stroke-width="1.6"/>
<rect x="1559.77" y="529.08" width="6.2" height="6.2" fill="none" stroke="#000000" stroke-width="1.6"/>
<polyline points="1070.23,333.97 1094.86,320.89 1119.49,331.79 1144.12,342.68 1168.76,353.58 1193.39,364.47 1218.02,375.37 1242.65,386.26 1267.28,397.16 1291.92,408.05 1316.55,418.95 1341.18,429.84 1365.81,440.74 1390.44,451.63 1415.08,462.53 1439.71,473.42 1464.34,484.32 1488.97,495.21 1513.6,506.11 1538.24,517 1562.87,527.9" fill="none" stroke="#808080" stroke-width="2.0" stroke-dasharray="0.1,4.3" stroke-linecap="round" stroke-linejoin="round"/>
<polygon points="1094.86,315.01 1101.16,325.81 1088.56,325.81" fill="none" stroke="#808080" stroke-width="1.6"/>
<polygon points="1119.49,325.91 1125.79,336.71 1113.19,336.71" fill="none" stroke="#808080" stroke-width="1.6"/>
<polygon points="1144.12,336.8 1150.42,347.6 1137.82,347.6" fill="none" stroke="#808080" stroke-width="1.6"/>
<polygon points="1168.76,347.7 1175.06,358.5 1162.46,358.5" fill="none" stroke="#808080" stroke-width="1.6"/>
<polygon points="1193.39,358.59 1199.69,369.39 1187.09,369.39" fill="none" stroke="#808080" stroke-width="1.6"/>
<polygon points="1218.02,369.49 1224.32,380.29 1211.72,380.29" fill="none" stroke="#808080" stroke-width="1.6"/>
<polygon points="1242.65,380.38 1248.95,391.18 1236.35,391.18" fill="none" stroke="#808080" stroke-width="1.6"/>
<polygon points="1267.28,391.28 1273.58,402.08 1260.98,402.08" fill="none" stroke="#808080" stroke-width="1.6"/>
<polygon points="1291.92,402.17 1298.22,412.97 1285.62,412.97" fill="none" stroke="#808080" stroke-width="1.6"/>
<polygon points="1316.55,413.07 1322.85,423.87 1310.25,423.87" fill="none" stroke="#808080" stroke-width="1.6"/>
<polygon points="1341.18,423.96 1347.48,434.76 1334.88,434.76" fill="none" stroke="#808080" stroke-width="1.6"/>
<polygon points="1365.81,434.86 1372.11,445.66 1359.51,445.66" fill="none" stroke="#808080" stroke-width="1.6"/>
<polygon points="1390.44,445.75 1396.74,456.55 1384.14,456.55" fill="none" stroke="#808080" stroke-width="1.6"/>
<polygon points="1415.08,456.65 1421.38,467.45 1408.78,467.45" fill="none" stroke="#808080" stroke-width="1.6"/>
<polygon points="1439.71,467.54 1446.01,478.34 1433.41,478.34" fill="none" stroke="#808080" stroke-width="1.6"/>
<polygon points="1464.34,478.44 1470.64,489.24 1458.04,489.24" fill="none" stroke="#808080" stroke-width="1.6"/>
<polygon points="1488.97,489.33 1495.27,500.13 1482.67,500.13" fill="none" stroke="#808080" stroke-width="1.6"/>
<polygon points="1513.6,500.23 1519.9,511.03 1507.3,511.03" fill="none" stroke="#808080" stroke-width="1.6"/>
<polygon points="1538.24,511.12 1544.54,521.92 1531.94,521.92" fill="none" stroke="#808080" stroke-width="1.6"/>
<polygon points="1562.87,522.02 1569.17,532.82 1556.57,532.82" fill="none" stroke="#808080" stroke-width="1.6"/>
<polyline points="1070.23,333.97 1094.86,294.26 1119.49,305.14 1144.12,316.01 1168.76,326.89 1193.39,337.77 1218.02,348.64 1242.65,359.52 1267.28,370.4 1291.92,381.27 1316.55,392.15 1341.18,403.02 1365.81,413.9 1390.44,424.78 1415.08,435.65 1439.71,446.53 1464.34,457.4 1488.97,468.28 1513.6,479.16 1538.24,490.03 1562.87,500.91" fill="none" stroke="#808080" stroke-width="2.0" stroke-dasharray="8.5,6" stroke-linecap="butt" stroke-linejoin="round"/>
<polygon points="1102.66,294.26 1090.66,288.56 1090.66,299.96" fill="none" stroke="#808080" stroke-width="1.6"/>
<polygon points="1127.29,305.14 1115.29,299.44 1115.29,310.84" fill="none" stroke="#808080" stroke-width="1.6"/>
<polygon points="1151.92,316.01 1139.92,310.31 1139.92,321.71" fill="none" stroke="#808080" stroke-width="1.6"/>
<polygon points="1176.56,326.89 1164.56,321.19 1164.56,332.59" fill="none" stroke="#808080" stroke-width="1.6"/>
<polygon points="1201.19,337.77 1189.19,332.07 1189.19,343.47" fill="none" stroke="#808080" stroke-width="1.6"/>
<polygon points="1225.82,348.64 1213.82,342.94 1213.82,354.34" fill="none" stroke="#808080" stroke-width="1.6"/>
<polygon points="1250.45,359.52 1238.45,353.82 1238.45,365.22" fill="none" stroke="#808080" stroke-width="1.6"/>
<polygon points="1275.08,370.4 1263.08,364.7 1263.08,376.1" fill="none" stroke="#808080" stroke-width="1.6"/>
<polygon points="1299.72,381.27 1287.72,375.57 1287.72,386.97" fill="none" stroke="#808080" stroke-width="1.6"/>
<polygon points="1324.35,392.15 1312.35,386.45 1312.35,397.85" fill="none" stroke="#808080" stroke-width="1.6"/>
<polygon points="1348.98,403.02 1336.98,397.32 1336.98,408.72" fill="none" stroke="#808080" stroke-width="1.6"/>
<polygon points="1373.61,413.9 1361.61,408.2 1361.61,419.6" fill="none" stroke="#808080" stroke-width="1.6"/>
<polygon points="1398.24,424.78 1386.24,419.08 1386.24,430.48" fill="none" stroke="#808080" stroke-width="1.6"/>
<polygon points="1422.88,435.65 1410.88,429.95 1410.88,441.35" fill="none" stroke="#808080" stroke-width="1.6"/>
<polygon points="1447.51,446.53 1435.51,440.83 1435.51,452.23" fill="none" stroke="#808080" stroke-width="1.6"/>
<polygon points="1472.14,457.4 1460.14,451.7 1460.14,463.1" fill="none" stroke="#808080" stroke-width="1.6"/>
<polygon points="1496.77,468.28 1484.77,462.58 1484.77,473.98" fill="none" stroke="#808080" stroke-width="1.6"/>
<polygon points="1521.4,479.16 1509.4,473.46 1509.4,484.86" fill="none" stroke="#808080" stroke-width="1.6"/>
<polygon points="1546.04,490.03 1534.04,484.33 1534.04,495.73" fill="none" stroke="#808080" stroke-width="1.6"/>
<polygon points="1570.67,500.91 1558.67,495.21 1558.67,506.61" fill="none" stroke="#808080" stroke-width="1.6"/>
<polyline points="1070.23,333.97 1094.86,296.93 1119.49,307.99 1144.12,319.06 1168.76,330.13 1193.39,341.2 1218.02,352.27 1242.65,363.34 1267.28,374.41 1291.92,385.48 1316.55,396.55 1341.18,407.62 1365.81,418.68 1390.44,429.75 1415.08,440.82 1439.71,451.89 1464.34,462.96 1488.97,474.03 1513.6,485.1 1538.24,496.17 1562.87,507.24" fill="none" stroke="#000000" stroke-width="2.0" stroke-dasharray="7,3,2.5,3" stroke-linecap="butt" stroke-linejoin="round"/>
<circle cx="1094.86" cy="296.93" r="4.32" fill="none" stroke="#000000" stroke-width="1.6"/>
<circle cx="1119.49" cy="307.99" r="4.32" fill="none" stroke="#000000" stroke-width="1.6"/>
<circle cx="1144.12" cy="319.06" r="4.32" fill="none" stroke="#000000" stroke-width="1.6"/>
<circle cx="1168.76" cy="330.13" r="4.32" fill="none" stroke="#000000" stroke-width="1.6"/>
<circle cx="1193.39" cy="341.2" r="4.32" fill="none" stroke="#000000" stroke-width="1.6"/>
<circle cx="1218.02" cy="352.27" r="4.32" fill="none" stroke="#000000" stroke-width="1.6"/>
<circle cx="1242.65" cy="363.34" r="4.32" fill="none" stroke="#000000" stroke-width="1.6"/>
<circle cx="1267.28" cy="374.41" r="4.32" fill="none" stroke="#000000" stroke-width="1.6"/>
<circle cx="1291.92" cy="385.48" r="4.32" fill="none" stroke="#000000" stroke-width="1.6"/>
<circle cx="1316.55" cy="396.55" r="4.32" fill="none" stroke="#000000" stroke-width="1.6"/>
<circle cx="1341.18" cy="407.62" r="4.32" fill="none" stroke="#000000" stroke-width="1.6"/>
<circle cx="1365.81" cy="418.68" r="4.32" fill="none" stroke="#000000" stroke-width="1.6"/>
<circle cx="1390.44" cy="429.75" r="4.32" fill="none" stroke="#000000" stroke-width="1.6"/>
<circle cx="1415.08" cy="440.82" r="4.32" fill="none" stroke="#000000" stroke-width="1.6"/>
<circle cx="1439.71" cy="451.89" r="4.32" fill="none" stroke="#000000" stroke-width="1.6"/>
<circle cx="1464.34" cy="462.96" r="4.32" fill="none" stroke="#000000" stroke-width="1.6"/>
<circle cx="1488.97" cy="474.03" r="4.32" fill="none" stroke="#000000" stroke-width="1.6"/>
<circle cx="1513.6" cy="485.1" r="4.32" fill="none" stroke="#000000" stroke-width="1.6"/>
<circle cx="1538.24" cy="496.17" r="4.32" fill="none" stroke="#000000" stroke-width="1.6"/>
<circle cx="1562.87" cy="507.24" r="4.32" fill="none" stroke="#000000" stroke-width="1.6"/>
<polyline points="1070.23,333.97 1094.86,300.53 1119.49,311.47 1144.12,322.42 1168.76,333.37 1193.39,344.31 1218.02,355.26 1242.65,366.2 1267.28,377.15 1291.92,388.1 1316.55,399.04 1341.18,409.99 1365.81,420.93 1390.44,431.88 1415.08,442.83 1439.71,453.77 1464.34,464.72 1488.97,475.66 1513.6,486.61 1538.24,497.56 1562.87,508.5" fill="none" stroke="#000000" stroke-width="2.0" stroke-linecap="butt" stroke-linejoin="round"/>
<polyline points="1070.23,333.97 1094.86,295.21 1119.49,306.21 1144.12,317.21 1168.76,328.2 1193.39,339.2 1218.02,350.2 1242.65,361.2 1267.28,372.2 1291.92,383.2 1316.55,394.19 1341.18,405.19 1365.81,416.19 1390.44,427.19 1415.08,438.19 1439.71,449.18 1464.34,460.18 1488.97,471.18 1513.6,482.18 1538.24,493.18 1562.87,504.17" fill="none" stroke="#000000" stroke-width="2.0" stroke-dasharray="0.1,4.3" stroke-linecap="round" stroke-linejoin="round"/>
<polygon points="1094.86,290.11 1096.42,292.51 1099.28,292.66 1097.98,295.21 1099.28,297.76 1096.42,297.91 1094.86,300.31 1093.3,297.91 1090.44,297.76 1091.74,295.21 1090.44,292.66 1093.3,292.51" fill="none" stroke="#000000" stroke-width="2.56" stroke-linejoin="miter"/>
<polygon points="1119.49,301.11 1121.05,303.51 1123.91,303.66 1122.61,306.21 1123.91,308.76 1121.05,308.91 1119.49,311.31 1117.93,308.91 1115.08,308.76 1116.37,306.21 1115.08,303.66 1117.93,303.51" fill="none" stroke="#000000" stroke-width="2.56" stroke-linejoin="miter"/>
<polygon points="1144.12,312.11 1145.68,314.5 1148.54,314.66 1147.24,317.21 1148.54,319.76 1145.68,319.91 1144.12,322.31 1142.56,319.91 1139.71,319.76 1141,317.21 1139.71,314.66 1142.56,314.5" fill="none" stroke="#000000" stroke-width="2.56" stroke-linejoin="miter"/>
<polygon points="1168.76,323.1 1170.32,325.5 1173.17,325.65 1171.88,328.2 1173.17,330.75 1170.32,330.91 1168.76,333.3 1167.2,330.91 1164.34,330.75 1165.64,328.2 1164.34,325.65 1167.2,325.5" fill="none" stroke="#000000" stroke-width="2.56" stroke-linejoin="miter"/>
<polygon points="1193.39,334.1 1194.95,336.5 1197.8,336.65 1196.51,339.2 1197.8,341.75 1194.95,341.9 1193.39,344.3 1191.83,341.9 1188.97,341.75 1190.27,339.2 1188.97,336.65 1191.83,336.5" fill="none" stroke="#000000" stroke-width="2.56" stroke-linejoin="miter"/>
<polygon points="1218.02,345.1 1219.58,347.5 1222.44,347.65 1221.14,350.2 1222.44,352.75 1219.58,352.9 1218.02,355.3 1216.46,352.9 1213.6,352.75 1214.9,350.2 1213.6,347.65 1216.46,347.5" fill="none" stroke="#000000" stroke-width="2.56" stroke-linejoin="miter"/>
<polygon points="1242.65,356.1 1244.21,358.5 1247.07,358.65 1245.77,361.2 1247.07,363.75 1244.21,363.9 1242.65,366.3 1241.09,363.9 1238.24,363.75 1239.53,361.2 1238.24,358.65 1241.09,358.5" fill="none" stroke="#000000" stroke-width="2.56" stroke-linejoin="miter"/>
<polygon points="1267.28,367.1 1268.84,369.49 1271.7,369.65 1270.4,372.2 1271.7,374.75 1268.84,374.9 1267.28,377.3 1265.72,374.9 1262.87,374.75 1264.16,372.2 1262.87,369.65 1265.72,369.49" fill="none" stroke="#000000" stroke-width="2.56" stroke-linejoin="miter"/>
<polygon points="1291.92,378.1 1293.48,380.49 1296.33,380.65 1295.04,383.2 1296.33,385.75 1293.48,385.9 1291.92,388.3 1290.36,385.9 1287.5,385.75 1288.8,383.2 1287.5,380.65 1290.36,380.49" fill="none" stroke="#000000" stroke-width="2.56" stroke-linejoin="miter"/>
<polygon points="1316.55,389.09 1318.11,391.49 1320.96,391.64 1319.67,394.19 1320.96,396.74 1318.11,396.9 1316.55,399.29 1314.99,396.9 1312.13,396.74 1313.43,394.19 1312.13,391.64 1314.99,391.49" fill="none" stroke="#000000" stroke-width="2.56" stroke-linejoin="miter"/>
<polygon points="1341.18,400.09 1342.74,402.49 1345.6,402.64 1344.3,405.19 1345.6,407.74 1342.74,407.89 1341.18,410.29 1339.62,407.89 1336.76,407.74 1338.06,405.19 1336.76,402.64 1339.62,402.49" fill="none" stroke="#000000" stroke-width="2.56" stroke-linejoin="miter"/>
<polygon points="1365.81,411.09 1367.37,413.49 1370.23,413.64 1368.93,416.19 1370.23,418.74 1367.37,418.89 1365.81,421.29 1364.25,418.89 1361.4,418.74 1362.69,416.19 1361.4,413.64 1364.25,413.49" fill="none" stroke="#000000" stroke-width="2.56" stroke-linejoin="miter"/>
<polygon points="1390.44,422.09 1392,424.49 1394.86,424.64 1393.56,427.19 1394.86,429.74 1392,429.89 1390.44,432.29 1388.88,429.89 1386.03,429.74 1387.32,427.19 1386.03,424.64 1388.88,424.49" fill="none" stroke="#000000" stroke-width="2.56" stroke-linejoin="miter"/>
<polygon points="1415.08,433.09 1416.64,435.48 1419.49,435.64 1418.2,438.19 1419.49,440.74 1416.64,440.89 1415.08,443.29 1413.52,440.89 1410.66,440.74 1411.96,438.19 1410.66,435.64 1413.52,435.48" fill="none" stroke="#000000" stroke-width="2.56" stroke-linejoin="miter"/>
<polygon points="1439.71,444.08 1441.27,446.48 1444.12,446.63 1442.83,449.18 1444.12,451.73 1441.27,451.89 1439.71,454.28 1438.15,451.89 1435.29,451.73 1436.59,449.18 1435.29,446.63 1438.15,446.48" fill="none" stroke="#000000" stroke-width="2.56" stroke-linejoin="miter"/>
<polygon points="1464.34,455.08 1465.9,457.48 1468.76,457.63 1467.46,460.18 1468.76,462.73 1465.9,462.88 1464.34,465.28 1462.78,462.88 1459.92,462.73 1461.22,460.18 1459.92,457.63 1462.78,457.48" fill="none" stroke="#000000" stroke-width="2.56" stroke-linejoin="miter"/>
<polygon points="1488.97,466.08 1490.53,468.48 1493.39,468.63 1492.09,471.18 1493.39,473.73 1490.53,473.88 1488.97,476.28 1487.41,473.88 1484.56,473.73 1485.85,471.18 1484.56,468.63 1487.41,468.48" fill="none" stroke="#000000" stroke-width="2.56" stroke-linejoin="miter"/>
<polygon points="1513.6,477.08 1515.16,479.48 1518.02,479.63 1516.72,482.18 1518.02,484.73 1515.16,484.88 1513.6,487.28 1512.04,484.88 1509.19,484.73 1510.48,482.18 1509.19,479.63 1512.04,479.48" fill="none" stroke="#000000" stroke-width="2.56" stroke-linejoin="miter"/>
<polygon points="1538.24,488.08 1539.8,490.47 1542.65,490.63 1541.36,493.18 1542.65,495.73 1539.8,495.88 1538.24,498.28 1536.68,495.88 1533.82,495.73 1535.12,493.18 1533.82,490.63 1536.68,490.47" fill="none" stroke="#000000" stroke-width="2.56" stroke-linejoin="miter"/>
<polygon points="1562.87,499.07 1564.43,501.47 1567.28,501.62 1565.99,504.17 1567.28,506.72 1564.43,506.88 1562.87,509.27 1561.31,506.88 1558.45,506.72 1559.75,504.17 1558.45,501.62 1561.31,501.47" fill="none" stroke="#000000" stroke-width="2.56" stroke-linejoin="miter"/>
<polygon points="996.33,147.23 997.67,150.14 1000.29,148.29 1000,151.48 1003.19,151.19 1001.34,153.81 1004.25,155.15 1001.34,156.49 1003.19,159.11 1000,158.81 1000.29,162.01 997.67,160.16 996.33,163.07 994.99,160.16 992.37,162.01 992.67,158.81 989.47,159.11 991.32,156.49 988.41,155.15 991.32,153.81 989.47,151.19 992.67,151.48 992.37,148.29 994.99,150.14" fill="#8a8a8a" stroke="none"/>
<circle cx="994.33" cy="152.65" r="1" fill="#333"/>
<circle cx="998.83" cy="152.65" r="1" fill="#333"/>
<polygon points="1020.96,206.82 1022.31,209.73 1024.92,207.88 1024.63,211.07 1027.82,210.78 1025.97,213.4 1028.88,214.74 1025.97,216.08 1027.82,218.7 1024.63,218.4 1024.92,221.6 1022.31,219.74 1020.96,222.66 1019.62,219.74 1017,221.6 1017.3,218.4 1014.11,218.7 1015.96,216.08 1013.04,214.74 1015.96,213.4 1014.11,210.78 1017.3,211.07 1017,207.88 1019.62,209.73" fill="#8a8a8a" stroke="none"/>
<circle cx="1018.96" cy="212.24" r="1" fill="#333"/>
<circle cx="1023.46" cy="212.24" r="1" fill="#333"/>
<polygon points="1045.6,266.61 1046.94,269.53 1049.56,267.67 1049.26,270.87 1052.45,270.57 1050.6,273.19 1053.52,274.53 1050.6,275.87 1052.45,278.49 1049.26,278.2 1049.56,281.39 1046.94,279.54 1045.6,282.45 1044.25,279.54 1041.64,281.39 1041.93,278.2 1038.74,278.49 1040.59,275.87 1037.68,274.53 1040.59,273.19 1038.74,270.57 1041.93,270.87 1041.64,267.67 1044.25,269.53" fill="#8a8a8a" stroke="none"/>
<circle cx="1043.6" cy="272.03" r="1" fill="#333"/>
<circle cx="1048.1" cy="272.03" r="1" fill="#333"/>
<polygon points="1070.23,326.05 1071.57,328.97 1074.19,327.11 1073.89,330.31 1077.09,330.01 1075.24,332.63 1078.15,333.97 1075.24,335.32 1077.09,337.93 1073.89,337.64 1074.19,340.83 1071.57,338.98 1070.23,341.89 1068.89,338.98 1066.27,340.83 1066.56,337.64 1063.37,337.93 1065.22,335.32 1062.31,333.97 1065.22,332.63 1063.37,330.01 1066.56,330.31 1066.27,327.11 1068.89,328.97" fill="#8a8a8a" stroke="none"/>
<circle cx="1068.23" cy="331.47" r="1" fill="#333"/>
<circle cx="1072.73" cy="331.47" r="1" fill="#333"/>
<polyline points="996.33,155.15 1020.96,214.74 1045.6,274.53 1070.23,333.97" fill="none" stroke="#000000" stroke-width="2.2" stroke-linecap="butt" stroke-linejoin="round"/>
<path d="M971.7,613.1v-6M971.7,18.2v6M1094.86,613.1v-6M1094.86,18.2v6M1218.02,613.1v-6M1218.02,18.2v6M1341.18,613.1v-6M1341.18,18.2v6M1464.34,613.1v-6M1464.34,18.2v6M1587.5,613.1v-6M1587.5,18.2v6M971.7,613.1h6M1587.5,613.1h-6M971.7,464.38h6M1587.5,464.38h-6M971.7,315.65h6M1587.5,315.65h-6M971.7,166.93h6M1587.5,166.93h-6M971.7,18.2h6M1587.5,18.2h-6M971.7,568.33h2.82M1587.5,568.33h-2.82M971.7,542.14h2.82M1587.5,542.14h-2.82M971.7,523.56h2.82M1587.5,523.56h-2.82M971.7,509.15h2.82M1587.5,509.15h-2.82M971.7,497.37h2.82M1587.5,497.37h-2.82M971.7,487.41h2.82M1587.5,487.41h-2.82M971.7,478.79h2.82M1587.5,478.79h-2.82M971.7,471.18h2.82M1587.5,471.18h-2.82M971.7,419.6h2.82M1587.5,419.6h-2.82M971.7,393.42h2.82M1587.5,393.42h-2.82M971.7,374.83h2.82M1587.5,374.83h-2.82M971.7,360.42h2.82M1587.5,360.42h-2.82M971.7,348.64h2.82M1587.5,348.64h-2.82M971.7,338.69h2.82M1587.5,338.69h-2.82M971.7,330.06h2.82M1587.5,330.06h-2.82M971.7,322.46h2.82M1587.5,322.46h-2.82M971.7,270.88h2.82M1587.5,270.88h-2.82M971.7,244.69h2.82M1587.5,244.69h-2.82M971.7,226.11h2.82M1587.5,226.11h-2.82M971.7,211.7h2.82M1587.5,211.7h-2.82M971.7,199.92h2.82M1587.5,199.92h-2.82M971.7,189.96h2.82M1587.5,189.96h-2.82M971.7,181.34h2.82M1587.5,181.34h-2.82M971.7,173.73h2.82M1587.5,173.73h-2.82M971.7,122.15h2.82M1587.5,122.15h-2.82M971.7,95.97h2.82M1587.5,95.97h-2.82M971.7,77.38h2.82M1587.5,77.38h-2.82M971.7,62.97h2.82M1587.5,62.97h-2.82M971.7,51.19h2.82M1587.5,51.19h-2.82M971.7,41.24h2.82M1587.5,41.24h-2.82M971.7,32.61h2.82M1587.5,32.61h-2.82M971.7,25.01h2.82M1587.5,25.01h-2.82" fill="none" stroke="#262626" stroke-width="1.4"/>
<rect x="971.7" y="18.2" width="615.8" height="594.9" fill="none" stroke="#262626" stroke-width="1.4"/>
<text x="971.7" y="651.5" font-size="30" text-anchor="middle" font-family="Liberation Sans, Arial, sans-serif" fill="#262626">0</text>
<text x="1094.86" y="651.5" font-size="30" text-anchor="middle" font-family="Liberation Sans, Arial, sans-serif" fill="#262626">5</text>
<text x="1218.02" y="651.5" font-size="30" text-anchor="middle" font-family="Liberation Sans, Arial, sans-serif" fill="#262626">10</text>
<text x="1341.18" y="651.5" font-size="30" text-anchor="middle" font-family="Liberation Sans, Arial, sans-serif" fill="#262626">15</text>
<text x="1464.34" y="651.5" font-size="30" text-anchor="middle" font-family="Liberation Sans, Arial, sans-serif" fill="#262626">20</text>
<text x="1587.5" y="651.5" font-size="30" text-anchor="middle" font-family="Liberation Sans, Arial, sans-serif" fill="#262626">25</text>
<text x="962.3" y="34.4" font-size="30" text-anchor="end" font-family="Liberation Sans, Arial, sans-serif" fill="#262626">10<tspan font-size="23" dy="-14.3">2</tspan></text>
<text x="962.3" y="183.13" font-size="30" text-anchor="end" font-family="Liberation Sans, Arial, sans-serif" fill="#262626">10<tspan font-size="23" dy="-14.3">1</tspan></text>
<text x="962.3" y="331.85" font-size="30" text-anchor="end" font-family="Liberation Sans, Arial, sans-serif" fill="#262626">10<tspan font-size="23" dy="-14.3">0</tspan></text>
<text x="962.3" y="480.57" font-size="30" text-anchor="end" font-family="Liberation Sans, Arial, sans-serif" fill="#262626">10<tspan font-size="23" dy="-14.3">-1</tspan></text>
<text x="962.3" y="629.3" font-size="30" text-anchor="end" font-family="Liberation Sans, Arial, sans-serif" fill="#262626">10<tspan font-size="23" dy="-14.3">-2</tspan></text>
<rect x="1308.6" y="44.2" width="250.8" height="231.8" fill="#ffffff"/>
<polyline points="1308.6,166.72 1350.4,188.99 1392.2,207.78 1434,223.62 1475.8,236.99 1517.6,248.27 1559.4,257.79" fill="none" stroke="#808080" stroke-width="2.0" stroke-dasharray="7,3,2.5,3" stroke-linecap="butt" stroke-linejoin="round"/>
<polygon points="1308.6,160.56 1313.75,166.72 1308.6,172.88 1303.45,166.72" fill="none" stroke="#808080" stroke-width="1.6"/>
<polygon points="1350.4,182.83 1355.55,188.99 1350.4,195.15 1345.25,188.99" fill="none" stroke="#808080" stroke-width="1.6"/>
<polygon points="1392.2,201.62 1397.35,207.78 1392.2,213.94 1387.05,207.78" fill="none" stroke="#808080" stroke-width="1.6"/>
<polygon points="1434,217.46 1439.15,223.62 1434,229.78 1428.85,223.62" fill="none" stroke="#808080" stroke-width="1.6"/>
<polygon points="1475.8,230.83 1480.95,236.99 1475.8,243.15 1470.65,236.99" fill="none" stroke="#808080" stroke-width="1.6"/>
<polygon points="1517.6,242.11 1522.75,248.27 1517.6,254.43 1512.45,248.27" fill="none" stroke="#808080" stroke-width="1.6"/>
<polygon points="1559.4,251.63 1564.55,257.79 1559.4,263.95 1554.25,257.79" fill="none" stroke="#808080" stroke-width="1.6"/>
<polyline points="1308.6,149.17 1350.4,174.07 1392.2,195.09 1434,212.84 1475.8,227.83 1517.6,240.48 1559.4,251.16" fill="none" stroke="#000000" stroke-width="2.0" stroke-dasharray="8.5,6" stroke-linecap="butt" stroke-linejoin="round"/>
<rect x="1305.5" y="146.07" width="6.2" height="6.2" fill="none" stroke="#000000" stroke-width="1.6"/>
<rect x="1347.3" y="170.97" width="6.2" height="6.2" fill="none" stroke="#000000" stroke-width="1.6"/>
<rect x="1389.1" y="191.99" width="6.2" height="6.2" fill="none" stroke="#000000" stroke-width="1.6"/>
<rect x="1430.9" y="209.74" width="6.2" height="6.2" fill="none" stroke="#000000" stroke-width="1.6"/>
<rect x="1472.7" y="224.73" width="6.2" height="6.2" fill="none" stroke="#000000" stroke-width="1.6"/>
<rect x="1514.5" y="237.38" width="6.2" height="6.2" fill="none" stroke="#000000" stroke-width="1.6"/>
<rect x="1556.3" y="248.06" width="6.2" height="6.2" fill="none" stroke="#000000" stroke-width="1.6"/>
<polyline points="1308.6,138.74 1350.4,165.19 1392.2,187.53 1434,206.4 1475.8,222.34 1517.6,235.81 1559.4,247.19" fill="none" stroke="#808080" stroke-width="2.0" stroke-dasharray="0.1,4.3" stroke-linecap="round" stroke-linejoin="round"/>
<polygon points="1308.6,132.86 1314.9,143.66 1302.3,143.66" fill="none" stroke="#808080" stroke-width="1.6"/>
<polygon points="1350.4,159.31 1356.7,170.11 1344.1,170.11" fill="none" stroke="#808080" stroke-width="1.6"/>
<polygon points="1392.2,181.65 1398.5,192.45 1385.9,192.45" fill="none" stroke="#808080" stroke-width="1.6"/>
<polygon points="1434,200.52 1440.3,211.32 1427.7,211.32" fill="none" stroke="#808080" stroke-width="1.6"/>
<polygon points="1475.8,216.46 1482.1,227.26 1469.5,227.26" fill="none" stroke="#808080" stroke-width="1.6"/>
<polygon points="1517.6,229.93 1523.9,240.73 1511.3,240.73" fill="none" stroke="#808080" stroke-width="1.6"/>
<polygon points="1559.4,241.31 1565.7,252.11 1553.1,252.11" fill="none" stroke="#808080" stroke-width="1.6"/>
<polyline points="1308.6,50.82 1350.4,90.85 1392.2,124.68 1434,153.26 1475.8,177.41 1517.6,197.82 1559.4,215.07" fill="none" stroke="#808080" stroke-width="2.0" stroke-dasharray="8.5,6" stroke-linecap="butt" stroke-linejoin="round"/>
<polygon points="1316.4,50.82 1304.4,45.12 1304.4,56.52" fill="none" stroke="#808080" stroke-width="1.6"/>
<polygon points="1358.2,90.85 1346.2,85.15 1346.2,96.55" fill="none" stroke="#808080" stroke-width="1.6"/>
<polygon points="1400,124.68 1388,118.98 1388,130.38" fill="none" stroke="#808080" stroke-width="1.6"/>
<polygon points="1441.8,153.26 1429.8,147.56 1429.8,158.96" fill="none" stroke="#808080" stroke-width="1.6"/>
<polygon points="1483.6,177.41 1471.6,171.71 1471.6,183.11" fill="none" stroke="#808080" stroke-width="1.6"/>
<polygon points="1525.4,197.82 1513.4,192.12 1513.4,203.52" fill="none" stroke="#808080" stroke-width="1.6"/>
<polygon points="1567.2,215.07 1555.2,209.37 1555.2,220.77" fill="none" stroke="#808080" stroke-width="1.6"/>
<polyline points="1308.6,70.69 1350.4,108.24 1392.2,139.88 1434,166.53 1475.8,188.99 1517.6,207.91 1559.4,223.84" fill="none" stroke="#000000" stroke-width="2.0" stroke-dasharray="7,3,2.5,3" stroke-linecap="butt" stroke-linejoin="round"/>
<circle cx="1308.6" cy="70.69" r="4.32" fill="none" stroke="#000000" stroke-width="1.6"/>
<circle cx="1350.4" cy="108.24" r="4.32" fill="none" stroke="#000000" stroke-width="1.6"/>
<circle cx="1392.2" cy="139.88" r="4.32" fill="none" stroke="#000000" stroke-width="1.6"/>
<circle cx="1434" cy="166.53" r="4.32" fill="none" stroke="#000000" stroke-width="1.6"/>
<circle cx="1475.8" cy="188.99" r="4.32" fill="none" stroke="#000000" stroke-width="1.6"/>
<circle cx="1517.6" cy="207.91" r="4.32" fill="none" stroke="#000000" stroke-width="1.6"/>
<circle cx="1559.4" cy="223.84" r="4.32" fill="none" stroke="#000000" stroke-width="1.6"/>
<polyline points="1308.6,77.98 1350.4,114.01 1392.2,144.42 1434,170.1 1475.8,191.77 1517.6,210.06 1559.4,225.5" fill="none" stroke="#000000" stroke-width="2.0" stroke-linecap="butt" stroke-linejoin="round"/>
<polyline points="1308.6,60.76 1350.4,99.64 1392.2,132.44 1434,160.1 1475.8,183.43 1517.6,203.11 1559.4,219.71" fill="none" stroke="#000000" stroke-width="2.0" stroke-dasharray="0.1,4.3" stroke-linecap="round" stroke-linejoin="round"/>
<polygon points="1308.6,55.66 1310.16,58.06 1313.02,58.21 1311.72,60.76 1313.02,63.31 1310.16,63.46 1308.6,65.86 1307.04,63.46 1304.18,63.31 1305.48,60.76 1304.18,58.21 1307.04,58.06" fill="none" stroke="#000000" stroke-width="2.56" stroke-linejoin="miter"/>
<polygon points="1350.4,94.54 1351.96,96.94 1354.82,97.09 1353.52,99.64 1354.82,102.19 1351.96,102.34 1350.4,104.74 1348.84,102.34 1345.98,102.19 1347.28,99.64 1345.98,97.09 1348.84,96.94" fill="none" stroke="#000000" stroke-width="2.56" stroke-linejoin="miter"/>
<polygon points="1392.2,127.34 1393.76,129.74 1396.62,129.89 1395.32,132.44 1396.62,134.99 1393.76,135.14 1392.2,137.54 1390.64,135.14 1387.78,134.99 1389.08,132.44 1387.78,129.89 1390.64,129.74" fill="none" stroke="#000000" stroke-width="2.56" stroke-linejoin="miter"/>
<polygon points="1434,155 1435.56,157.4 1438.42,157.55 1437.12,160.1 1438.42,162.65 1435.56,162.8 1434,165.2 1432.44,162.8 1429.58,162.65 1430.88,160.1 1429.58,157.55 1432.44,157.4" fill="none" stroke="#000000" stroke-width="2.56" stroke-linejoin="miter"/>
<polygon points="1475.8,178.33 1477.36,180.73 1480.22,180.88 1478.92,183.43 1480.22,185.98 1477.36,186.13 1475.8,188.53 1474.24,186.13 1471.38,185.98 1472.68,183.43 1471.38,180.88 1474.24,180.73" fill="none" stroke="#000000" stroke-width="2.56" stroke-linejoin="miter"/>
<polygon points="1517.6,198.01 1519.16,200.41 1522.02,200.56 1520.72,203.11 1522.02,205.66 1519.16,205.81 1517.6,208.21 1516.04,205.81 1513.18,205.66 1514.48,203.11 1513.18,200.56 1516.04,200.41" fill="none" stroke="#000000" stroke-width="2.56" stroke-linejoin="miter"/>
<polygon points="1559.4,214.61 1560.96,217 1563.82,217.16 1562.52,219.71 1563.82,222.26 1560.96,222.41 1559.4,224.81 1557.84,222.41 1554.98,222.26 1556.28,219.71 1554.98,217.16 1557.84,217" fill="none" stroke="#000000" stroke-width="2.56" stroke-linejoin="miter"/>
<path d="M1308.6,276v-2.5M1308.6,44.2v2.5M1392.2,276v-2.5M1392.2,44.2v2.5M1475.8,276v-2.5M1475.8,44.2v2.5M1559.4,276v-2.5M1559.4,44.2v2.5M1308.6,276h2.5M1559.4,276h-2.5M1308.6,209.77h2.5M1559.4,209.77h-2.5M1308.6,143.54h2.5M1559.4,143.54h-2.5M1308.6,77.31h2.5M1559.4,77.31h-2.5" fill="none" stroke="#262626" stroke-width="1.4"/>
<rect x="1308.6" y="44.2" width="250.8" height="231.8" fill="none" stroke="#262626" stroke-width="1.4"/>
<text transform="translate(1308.6,315.5) scale(0.93,1)" font-size="31.5" text-anchor="middle" font-family="Liberation Sans, Arial, sans-serif" fill="#262626">18</text>
<text transform="translate(1392.2,315.5) scale(0.93,1)" font-size="31.5" text-anchor="middle" font-family="Liberation Sans, Arial, sans-serif" fill="#262626">20</text>
<text transform="translate(1475.8,315.5) scale(0.93,1)" font-size="31.5" text-anchor="middle" font-family="Liberation Sans, Arial, sans-serif" fill="#262626">22</text>
<text transform="translate(1559.4,315.5) scale(0.93,1)" font-size="31.5" text-anchor="middle" font-family="Liberation Sans, Arial, sans-serif" fill="#262626">24</text>
<text transform="translate(1298.9,288.4) scale(0.93,1)" font-size="31.5" text-anchor="end" font-family="Liberation Sans, Arial, sans-serif" fill="#262626">0.02</text>
<text transform="translate(1298.9,222.17) scale(0.93,1)" font-size="31.5" text-anchor="end" font-family="Liberation Sans, Arial, sans-serif" fill="#262626">0.06</text>
<text transform="translate(1298.9,155.94) scale(0.93,1)" font-size="31.5" text-anchor="end" font-family="Liberation Sans, Arial, sans-serif" fill="#262626">0.1</text>
<text transform="translate(1298.9,89.71) scale(0.93,1)" font-size="31.5" text-anchor="end" font-family="Liberation Sans, Arial, sans-serif" fill="#262626">0.14</text>
<text transform="translate(34.5,381) rotate(-90) translate(-0.16,0) scale(1.08,1)" font-size="44.00" font-family="Liberation Serif, Times New Roman, serif" fill="#1a1a1a" stroke="#ffffff" stroke-width="0.7" font-style="italic">d</text>
<text transform="translate(34.5,381) rotate(-90) translate(24.62,6.5)" font-size="30.00" font-family="Liberation Serif, Times New Roman, serif" fill="#1a1a1a" stroke="#ffffff" stroke-width="0.2" font-style="italic">a</text>
<text transform="translate(34.5,381) rotate(-90) translate(44.87,1.8) scale(0.68,1)" font-size="48.00" font-family="Liberation Serif, Times New Roman, serif" fill="#1a1a1a" stroke="#ffffff" stroke-width="0.7" font-style="normal">(</text>
<text transform="translate(34.5,381) rotate(-90) translate(59.31,0) scale(0.95,1)" font-size="44.00" font-family="Liberation Serif, Times New Roman, serif" fill="#1a1a1a" stroke="#ffffff" stroke-width="0.7" font-style="italic">c</text>
<text transform="translate(34.5,381) rotate(-90) translate(74.51,0) scale(1.3,1)" font-size="44.00" font-family="Liberation Serif, Times New Roman, serif" fill="#1a1a1a" stroke="#ffffff" stroke-width="0.7" font-style="italic">m</text>
<text transform="translate(34.5,381) rotate(-90) translate(116.56,1.8) scale(0.68,1)" font-size="48.00" font-family="Liberation Serif, Times New Roman, serif" fill="#1a1a1a" stroke="#ffffff" stroke-width="0.7" font-style="normal">)</text>
<text transform="translate(368.4,214.3) rotate(-90) translate(-0.13,0) scale(1.08,1)" font-size="36.74" font-family="Liberation Serif, Times New Roman, serif" fill="#1a1a1a" stroke="#ffffff" stroke-width="0.35" font-style="italic">d</text>
<text transform="translate(368.4,214.3) rotate(-90) translate(20.56,5.43)" font-size="25.05" font-family="Liberation Serif, Times New Roman, serif" fill="#1a1a1a" stroke="#ffffff" stroke-width="0.2" font-style="italic">a</text>
<text transform="translate(368.4,214.3) rotate(-90) translate(37.47,1.5) scale(0.68,1)" font-size="40.08" font-family="Liberation Serif, Times New Roman, serif" fill="#1a1a1a" stroke="#ffffff" stroke-width="0.7" font-style="normal">(</text>
<text transform="translate(368.4,214.3) rotate(-90) translate(49.52,0) scale(0.95,1)" font-size="36.74" font-family="Liberation Serif, Times New Roman, serif" fill="#1a1a1a" stroke="#ffffff" stroke-width="0.35" font-style="italic">c</text>
<text transform="translate(368.4,214.3) rotate(-90) translate(62.22,0) scale(1.3,1)" font-size="36.74" font-family="Liberation Serif, Times New Roman, serif" fill="#1a1a1a" stroke="#ffffff" stroke-width="0.35" font-style="italic">m</text>
<text transform="translate(368.4,214.3) rotate(-90) translate(97.32,1.5) scale(0.68,1)" font-size="40.08" font-family="Liberation Serif, Times New Roman, serif" fill="#1a1a1a" stroke="#ffffff" stroke-width="0.7" font-style="normal">)</text>
<text transform="translate(891.5,366) rotate(-90) translate(-1.2,0)" font-size="44.00" font-family="Liberation Serif, Times New Roman, serif" fill="#1a1a1a" stroke="#ffffff" stroke-width="0.7" font-style="italic">l</text>
<text transform="translate(891.5,366) rotate(-90) translate(15.57,1.8) scale(0.68,1)" font-size="48.00" font-family="Liberation Serif, Times New Roman, serif" fill="#1a1a1a" stroke="#ffffff" stroke-width="0.7" font-style="normal">(</text>
<text transform="translate(891.5,366) rotate(-90) translate(27.11,0) scale(0.95,1)" font-size="44.00" font-family="Liberation Serif, Times New Roman, serif" fill="#1a1a1a" stroke="#ffffff" stroke-width="0.7" font-style="italic">c</text>
<text transform="translate(891.5,366) rotate(-90) translate(44.01,0) scale(1.3,1)" font-size="44.00" font-family="Liberation Serif, Times New Roman, serif" fill="#1a1a1a" stroke="#ffffff" stroke-width="0.7" font-style="italic">m</text>
<text transform="translate(891.5,366) rotate(-90) translate(88.26,1.8) scale(0.68,1)" font-size="48.00" font-family="Liberation Serif, Times New Roman, serif" fill="#1a1a1a" stroke="#ffffff" stroke-width="0.7" font-style="normal">)</text>
<text transform="translate(1225.7,201.6) rotate(-90) translate(-1,0)" font-size="36.74" font-family="Liberation Serif, Times New Roman, serif" fill="#1a1a1a" stroke="#ffffff" stroke-width="0.35" font-style="italic">l</text>
<text transform="translate(1225.7,201.6) rotate(-90) translate(13,1.5) scale(0.68,1)" font-size="40.08" font-family="Liberation Serif, Times New Roman, serif" fill="#1a1a1a" stroke="#ffffff" stroke-width="0.7" font-style="normal">(</text>
<text transform="translate(1225.7,201.6) rotate(-90) translate(22.63,0) scale(0.95,1)" font-size="36.74" font-family="Liberation Serif, Times New Roman, serif" fill="#1a1a1a" stroke="#ffffff" stroke-width="0.35" font-style="italic">c</text>
<text transform="translate(1225.7,201.6) rotate(-90) translate(36.75,0) scale(1.3,1)" font-size="36.74" font-family="Liberation Serif, Times New Roman, serif" fill="#1a1a1a" stroke="#ffffff" stroke-width="0.35" font-style="italic">m</text>
<text transform="translate(1225.7,201.6) rotate(-90) translate(73.69,1.5) scale(0.68,1)" font-size="40.08" font-family="Liberation Serif, Times New Roman, serif" fill="#1a1a1a" stroke="#ffffff" stroke-width="0.7" font-style="normal">)</text>
<text x="424.5" y="697" text-anchor="middle" font-size="35" font-family="DejaVu Serif, Liberation Serif, serif" font-style="italic" fill="#1a1a1a" stroke="#ffffff" stroke-width="0.35">z</text>
<text x="579.2" y="352.8" text-anchor="middle" font-size="28" font-family="DejaVu Serif, Liberation Serif, serif" font-style="italic" fill="#1a1a1a" stroke="#ffffff" stroke-width="0.3">z</text>
<text x="1280.4" y="697" text-anchor="middle" font-size="35" font-family="DejaVu Serif, Liberation Serif, serif" font-style="italic" fill="#1a1a1a" stroke="#ffffff" stroke-width="0.35">z</text>
<text x="1434.3" y="352.8" text-anchor="middle" font-size="28" font-family="DejaVu Serif, Liberation Serif, serif" font-style="italic" fill="#1a1a1a" stroke="#ffffff" stroke-width="0.3">z</text>
<text x="8" y="45" font-size="45" font-weight="bold" font-family="Liberation Sans, Arial, sans-serif" fill="#000">A</text>
<text x="845" y="45" font-size="45" font-weight="bold" font-family="Liberation Sans, Arial, sans-serif" fill="#000">B</text>
</svg>
</body></html>
